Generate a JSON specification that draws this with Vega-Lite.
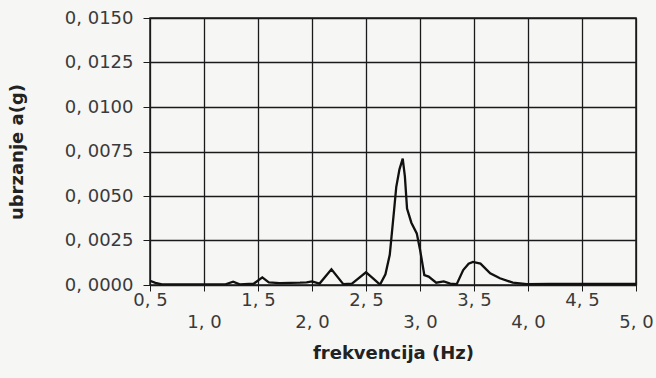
{
  "$schema": "https://vega.github.io/schema/vega-lite/v6.json",
  "autosize": {"type": "none"},
  "width": 486,
  "height": 267,
  "padding": {"left": 150, "top": 18, "right": 20, "bottom": 93},
  "background": "#f6f6f4",
  "config": {
    "view": {"stroke": "#1a1a1a", "strokeWidth": 1.5, "fill": "#f6f6f4"},
    "axis": {"domainColor": "#1a1a1a", "tickColor": "#1a1a1a", "gridColor": "#1a1a1a", "gridOpacity": 1, "gridWidth": 1.3, "labelColor": "#3a3a3a", "titleColor": "#222", "labelFont": "DejaVu Sans", "titleFont": "DejaVu Sans", "labelFontWeight": "normal", "labelFontSize": 18, "titleFontSize": 18, "titleFontWeight": "bold"}
  },
  "data": {"values": [
    {"f": 0.50, "a": 0.00024}, {"f": 0.55, "a": 0.00012}, {"f": 0.61, "a": 0.00004}, {"f": 0.80, "a": 0.00003},
    {"f": 1.00, "a": 0.00003}, {"f": 1.20, "a": 0.00004}, {"f": 1.27, "a": 0.00019}, {"f": 1.33, "a": 0.00004},
    {"f": 1.46, "a": 0.00007}, {"f": 1.54, "a": 0.00043}, {"f": 1.60, "a": 0.00015}, {"f": 1.70, "a": 0.00010},
    {"f": 1.80, "a": 0.00012}, {"f": 1.89, "a": 0.00013}, {"f": 1.95, "a": 0.00015}, {"f": 2.00, "a": 0.00020},
    {"f": 2.07, "a": 0.00008}, {"f": 2.18, "a": 0.00088}, {"f": 2.29, "a": 0.00005}, {"f": 2.37, "a": 0.00008},
    {"f": 2.50, "a": 0.00071}, {"f": 2.56, "a": 0.00040}, {"f": 2.63, "a": 0.00002}, {"f": 2.68, "a": 0.0006},
    {"f": 2.72, "a": 0.0017}, {"f": 2.76, "a": 0.0042}, {"f": 2.78, "a": 0.0055}, {"f": 2.81, "a": 0.0065},
    {"f": 2.84, "a": 0.0071}, {"f": 2.86, "a": 0.0061}, {"f": 2.88, "a": 0.0043}, {"f": 2.92, "a": 0.0035},
    {"f": 2.97, "a": 0.0029}, {"f": 3.00, "a": 0.0020}, {"f": 3.04, "a": 0.00056}, {"f": 3.08, "a": 0.00047},
    {"f": 3.15, "a": 0.00013}, {"f": 3.22, "a": 0.00020}, {"f": 3.28, "a": 0.00008}, {"f": 3.34, "a": 0.00005},
    {"f": 3.40, "a": 0.00084}, {"f": 3.45, "a": 0.00120}, {"f": 3.49, "a": 0.00130}, {"f": 3.56, "a": 0.00120},
    {"f": 3.65, "a": 0.00066}, {"f": 3.74, "a": 0.00038}, {"f": 3.86, "a": 0.00013}, {"f": 3.99, "a": 0.00005},
    {"f": 4.20, "a": 0.00006}, {"f": 4.50, "a": 0.00006}, {"f": 4.80, "a": 0.00006}, {"f": 5.00, "a": 0.00006}
  ]},
  "mark": {"type": "line", "color": "#111", "strokeWidth": 2.3, "clip": true},
  "encoding": {
    "x": {
      "field": "f", "type": "quantitative",
      "scale": {"domain": [0.5, 5.0], "nice": false, "zero": false},
      "axis": {
        "values": [0.5, 1.0, 1.5, 2.0, 2.5, 3.0, 3.5, 4.0, 4.5, 5.0],
        "title": "frekvencija (Hz)",
        "labelExpr": "(round(datum.value*2) % 2 == 1) ? replace(format(datum.value, '.1f'), '.', ', ') : [' ', replace(format(datum.value, '.1f'), '.', ', ')]",
        "labelLineHeight": 22,
        "labelPadding": 0,
        "labelOverlap": false,
        "labelFlush": false,
        "tickSize": 6,
        "titlePadding": 13
      }
    },
    "y": {
      "field": "a", "type": "quantitative",
      "scale": {"domain": [0, 0.015], "nice": false},
      "axis": {
        "values": [0, 0.0025, 0.005, 0.0075, 0.01, 0.0125, 0.015],
        "title": "ubrzanje a(g)",
        "labelExpr": "replace(format(datum.value, '.4f'), '.', ', ')",
        "tickSize": 7,
        "labelPadding": 10,
        "titlePadding": 38,
        "labelOverlap": false,
        "labelFlush": false
      }
    }
  }
}
